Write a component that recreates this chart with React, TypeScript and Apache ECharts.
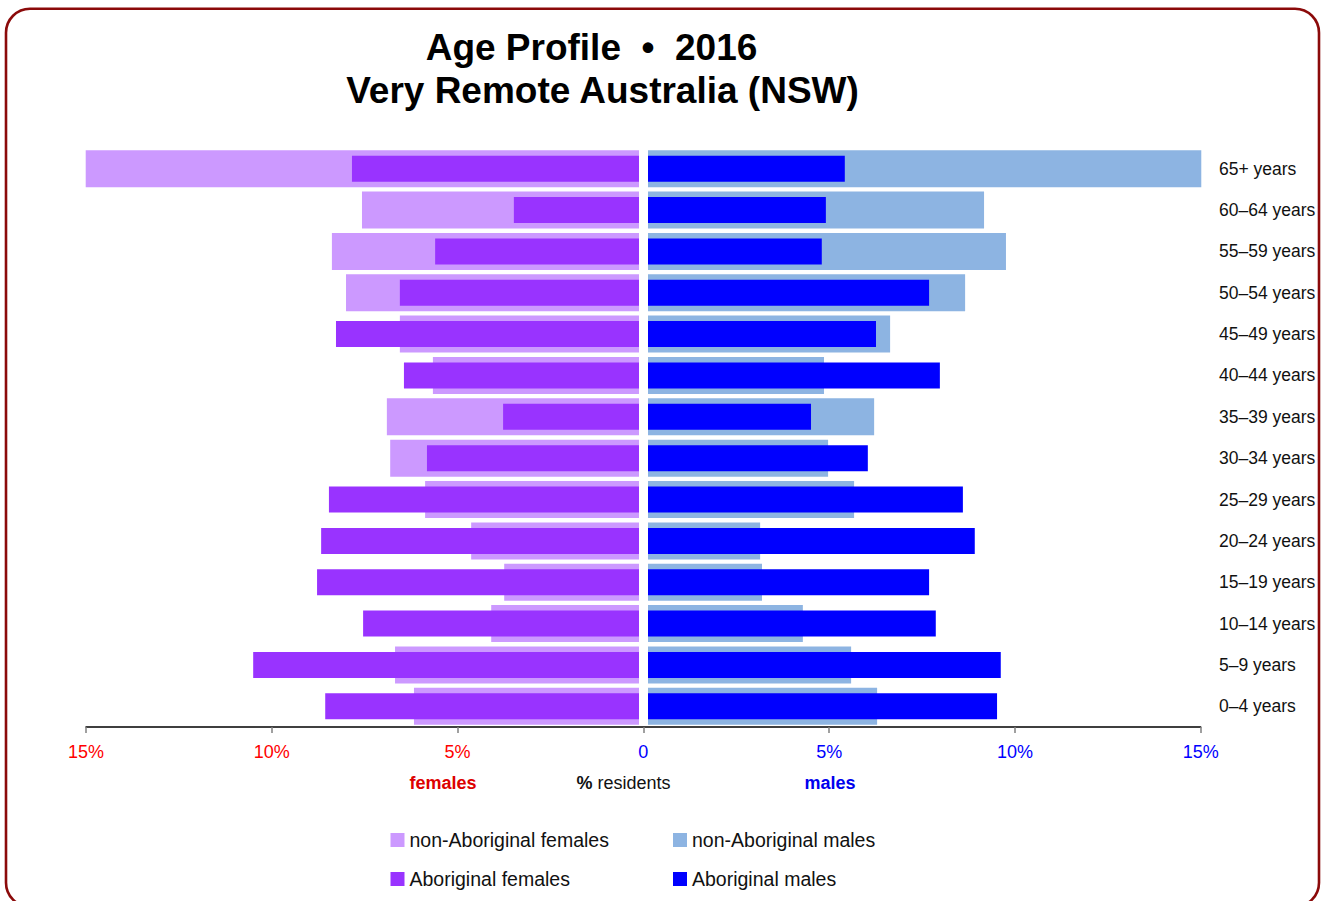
import React, { useEffect, useRef } from "react";
import * as echarts from "echarts";

const ageGroups = [
  "0–4 years", "5–9 years", "10–14 years", "15–19 years", "20–24 years",
  "25–29 years", "30–34 years", "35–39 years", "40–44 years", "45–49 years",
  "50–54 years", "55–59 years", "60–64 years", "65+ years",
];
const nonAbFemales = [6.06, 6.57, 3.98, 3.63, 4.52, 5.76, 6.70, 6.79, 5.55, 6.44, 7.89, 8.27, 7.46, 14.9];
const abFemales = [8.45, 10.39, 7.43, 8.67, 8.56, 8.35, 5.71, 3.66, 6.33, 8.16, 6.44, 5.49, 3.37, 7.73];
const nonAbMales = [6.17, 5.47, 4.17, 3.07, 3.02, 5.55, 4.85, 6.09, 4.74, 6.52, 8.54, 9.64, 9.05, 14.9];
const abMales = [9.40, 9.50, 7.75, 7.57, 8.80, 8.48, 5.92, 4.39, 7.86, 6.14, 7.57, 4.68, 4.79, 5.30];
const axisTicks = [-15, 15, 5];

const seriesNames = [
  "non-Aboriginal females",
  "Aboriginal females",
  "non-Aboriginal males",
  "Aboriginal males",
];
const colors = ["#CC99FF", "#9933FF", "#8DB4E2", "#0000FF"];

const SANS = "'Liberation Sans', Arial, Helvetica, sans-serif";

export default function App() {
  const ref = useRef<HTMLDivElement>(null);
  useEffect(() => {
    if (!ref.current) return;
    const chart = echarts.init(ref.current, null, { renderer: "svg" });
    const gridTop = 148;
    const gridH = 579;
    const hiddenCat = (gi: number) => ({
      type: "category", gridIndex: gi, data: ageGroups, show: false,
    });
    const legendPos = [
      { left: 390.5, top: 830 },
      { left: 390.5, top: 869 },
      { left: 673, top: 830 },
      { left: 673, top: 869 },
    ];
    const legendOrder = [0, 1, 2, 3];
    chart.setOption({
      animation: false,
      backgroundColor: "#ffffff",
      grid: [
        { left: 82, top: gridTop, width: 557, height: gridH },
        { left: 648, top: gridTop, width: 557, height: gridH },
        { left: 86, top: gridTop, width: 1114.7, height: gridH },
      ],
      xAxis: [
        { type: "value", gridIndex: 0, min: 0, max: 15, inverse: true, show: false },
        { type: "value", gridIndex: 1, min: 0, max: 15, show: false },
        {
          type: "value", gridIndex: 2, min: axisTicks[0], max: axisTicks[1], interval: axisTicks[2],
          axisLine: { show: true, lineStyle: { color: "#000", width: 1.5 } },
          axisTick: { show: true, length: 6, lineStyle: { color: "#808080", width: 1.5 } },
          splitLine: { show: false },
          axisLabel: {
            margin: 16,
            fontSize: 18,
            fontFamily: SANS,
            formatter: (v: number) => (v === 0 ? "0" : Math.abs(v) + "%"),
            color: (v: any) => (Number(v) < 0 ? "#FF0000" : "#0000FF"),
          },
        },
      ],
      yAxis: [
        hiddenCat(0),
        hiddenCat(0),
        {
          type: "category", gridIndex: 1, data: ageGroups, position: "right",
          axisLine: { show: false }, axisTick: { show: false },
          axisLabel: { margin: 14, fontSize: 17.5, fontFamily: SANS, color: "#111" },
        },
        hiddenCat(1),
        hiddenCat(2),
      ],
      legend: legendOrder.map((i) => ({
        data: [seriesNames[i]],
        left: legendPos[i].left,
        top: legendPos[i].top,
        padding: 0,
        icon: "rect",
        itemWidth: 14,
        itemHeight: 14,
        textStyle: { fontSize: 19.5, fontFamily: SANS, color: "#111", lineHeight: 20 },
      })),
      series: [
        {
          name: seriesNames[0], type: "bar", xAxisIndex: 0, yAxisIndex: 0,
          data: nonAbFemales, barWidth: 37, itemStyle: { color: colors[0] },
        },
        {
          name: seriesNames[1], type: "bar", xAxisIndex: 0, yAxisIndex: 1,
          data: abFemales, barWidth: 26, itemStyle: { color: colors[1] },
        },
        {
          name: seriesNames[2], type: "bar", xAxisIndex: 1, yAxisIndex: 2,
          data: nonAbMales, barWidth: 37, itemStyle: { color: colors[2] },
        },
        {
          name: seriesNames[3], type: "bar", xAxisIndex: 1, yAxisIndex: 3,
          data: abMales, barWidth: 26, itemStyle: { color: colors[3] },
        },
        { type: "scatter", xAxisIndex: 2, yAxisIndex: 4, data: [], silent: true },
      ],
      graphic: [
        {
          type: "rect", silent: true,
          shape: { x: 6, y: 8.7, width: 1313, height: 898, r: 24 },
          style: { fill: "none", stroke: "#8B0A0A", lineWidth: 2.6 },
        },
        {
          type: "text", x: 591.5, y: 47, silent: true,
          style: {
            text: "Age Profile  •  2016", fontSize: 37, fontWeight: "bold", fontFamily: SANS,
            fill: "#000", align: "center", verticalAlign: "middle",
          },
        },
        {
          type: "text", x: 602.5, y: 90, silent: true,
          style: {
            text: "Very Remote Australia (NSW)", fontSize: 37, fontWeight: "bold", fontFamily: SANS,
            fill: "#000", align: "center", verticalAlign: "middle",
          },
        },
        {
          type: "text", x: 443, y: 783, silent: true,
          style: {
            text: "females", fontSize: 18, fontWeight: "bold", fontFamily: SANS,
            fill: "#DD0000", align: "center", verticalAlign: "middle",
          },
        },
        {
          type: "text", x: 623.5, y: 783, silent: true,
          style: {
            text: "{b|%} residents", fontSize: 18, fontFamily: SANS,
            fill: "#111", align: "center", verticalAlign: "middle",
            rich: { b: { fontWeight: "bold", fontSize: 18, fontFamily: SANS, fill: "#111" } },
          },
        },
        {
          type: "text", x: 830, y: 783, silent: true,
          style: {
            text: "males", fontSize: 18, fontWeight: "bold", fontFamily: SANS,
            fill: "#0000EE", align: "center", verticalAlign: "middle",
          },
        },
      ],
    });
    return () => chart.dispose();
  }, []);
  return (
    <div
      ref={ref}
      style={{ position: "absolute", left: 0, top: 0, width: 1326, height: 901 }}
    />
  );
}
